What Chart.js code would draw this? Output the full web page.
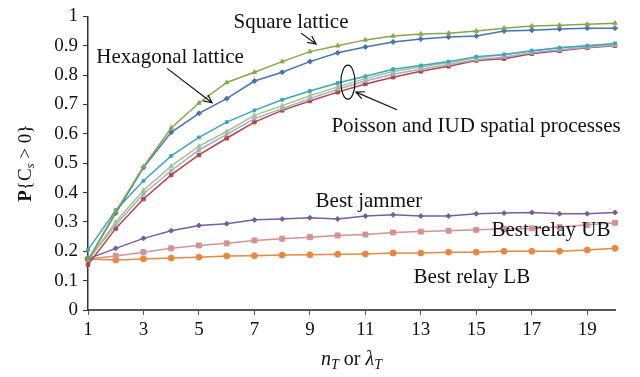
<!DOCTYPE html>
<html>
<head>
<meta charset="utf-8">
<script src="https://cdn.jsdelivr.net/npm/chart.js@4/dist/chart.umd.min.js"></script>
<style>
  html, body { margin: 0; padding: 0; background: #fff; }
  #wrap { width: 640px; height: 377px; }
</style>
</head>
<body>
<div id="wrap"><canvas id="c"></canvas></div>
<script>
var nT = ['1','2','3','4','5','6','7','8','9','10','11','12','13','14','15','16','17','18','19','20'];

var squareLattice = [0.17, 0.335, 0.488, 0.62, 0.705, 0.775, 0.81, 0.846, 0.88, 0.90, 0.92, 0.933, 0.94, 0.943, 0.95, 0.96, 0.967, 0.97, 0.973, 0.977];
var hexLattice    = [0.17, 0.33, 0.485, 0.605, 0.67, 0.72, 0.78, 0.81, 0.846, 0.876, 0.896, 0.913, 0.923, 0.93, 0.933, 0.95, 0.953, 0.957, 0.96, 0.96];
var poissonA      = [0.205, 0.34, 0.44, 0.525, 0.588, 0.64, 0.68, 0.716, 0.746, 0.773, 0.796, 0.82, 0.833, 0.846, 0.863, 0.87, 0.883, 0.893, 0.9, 0.908];
var poissonB      = [0.17, 0.30, 0.408, 0.49, 0.558, 0.608, 0.663, 0.696, 0.73, 0.76, 0.788, 0.812, 0.828, 0.843, 0.858, 0.87, 0.882, 0.893, 0.9, 0.905];
var iudA          = [0.17, 0.29, 0.395, 0.475, 0.545, 0.598, 0.652, 0.686, 0.72, 0.752, 0.78, 0.803, 0.82, 0.836, 0.852, 0.862, 0.876, 0.886, 0.895, 0.902];
var iudB          = [0.154, 0.278, 0.378, 0.46, 0.528, 0.585, 0.64, 0.68, 0.712, 0.742, 0.77, 0.793, 0.813, 0.83, 0.85, 0.856, 0.873, 0.883, 0.893, 0.9];
var bestJammer    = [0.174, 0.21, 0.244, 0.27, 0.288, 0.294, 0.307, 0.31, 0.314, 0.31, 0.32, 0.324, 0.32, 0.32, 0.328, 0.33, 0.332, 0.328, 0.328, 0.332];
var relayUB       = [0.174, 0.184, 0.197, 0.21, 0.22, 0.227, 0.237, 0.243, 0.248, 0.254, 0.257, 0.264, 0.267, 0.27, 0.273, 0.276, 0.278, 0.283, 0.29, 0.297];
var relayLB       = [0.174, 0.17, 0.174, 0.177, 0.18, 0.184, 0.185, 0.187, 0.188, 0.19, 0.191, 0.194, 0.194, 0.197, 0.197, 0.2, 0.2, 0.2, 0.204, 0.21];

var SERIF = '"Liberation Serif", "DejaVu Serif", serif';

function ds(data, color, style, r) {
  return {
    data: data,
    borderColor: color,
    backgroundColor: color,
    borderWidth: 1.5,
    pointStyle: style,
    pointRadius: r,
    pointBorderWidth: 1,
    tension: 0
  };
}

// text annotations (x as value on nT axis, y as probability)
var notes = [
  { text: 'Square lattice', x: 8.32, y: 0.98 },
  { text: 'Hexagonal lattice', x: 3.96, y: 0.86 },
  { text: 'Poisson and IUD spatial processes', x: 14.99, y: 0.625 },
  { text: 'Best jammer', x: 11.13, y: 0.368 },
  { text: 'Best relay UB', x: 17.69, y: 0.271 },
  { text: 'Best relay LB', x: 14.84, y: 0.11 }
];
var arrows = [
  { x0: 8.68, y0: 0.943, x1: 9.22, y1: 0.906 },
  { x0: 3.85, y0: 0.823, x1: 5.47, y1: 0.706 },
  { x0: 12.14, y0: 0.682, x1: 10.66, y1: 0.742 }
];
var ellipse = { x: 10.37, y: 0.776 };

var annotate = {
  id: 'annotate',
  afterDatasetsDraw: function(chart) {
    var c = chart.ctx, xs = chart.scales.x, ys = chart.scales.y;
    function px(v) { return xs.getPixelForValue(v - 1); }
    function py(v) { return ys.getPixelForValue(v); }
    c.save();
    c.fillStyle = '#111';
    c.font = '21px ' + SERIF;
    c.textAlign = 'center';
    c.textBaseline = 'middle';
    notes.forEach(function(n) { c.fillText(n.text, px(n.x), py(n.y)); });

    c.strokeStyle = '#111';
    c.lineWidth = 1.2;
    arrows.forEach(function(a) {
      var x0 = px(a.x0), y0 = py(a.y0), x1 = px(a.x1), y1 = py(a.y1);
      c.beginPath(); c.moveTo(x0, y0); c.lineTo(x1, y1); c.stroke();
      var ang = Math.atan2(y1 - y0, x1 - x0), h = 9, w = 0.45;
      c.beginPath();
      c.moveTo(x1 - h * Math.cos(ang - w), y1 - h * Math.sin(ang - w));
      c.lineTo(x1, y1);
      c.lineTo(x1 - h * Math.cos(ang + w), y1 - h * Math.sin(ang + w));
      c.stroke();
    });
    c.beginPath();
    c.ellipse(px(ellipse.x), py(ellipse.y), 7, 17, 0, 0, Math.PI * 2);
    c.stroke();

    // x title: n_T or λ_T
    var cx = (chart.chartArea.left + chart.chartArea.right) / 2, ty = 360;
    var parts = [
      { t: 'n', f: 'italic 20px ' + SERIF, dy: 0 },
      { t: 'T', f: 'italic 14px ' + SERIF, dy: 5 },
      { t: ' or ', f: '20px ' + SERIF, dy: 0 },
      { t: 'λ', f: 'italic 20px ' + SERIF, dy: 0 },
      { t: 'T', f: 'italic 14px ' + SERIF, dy: 5 }
    ];
    drawParts(c, parts, cx, ty);

    // y title: P{C_s > 0}
    c.translate(26, (chart.chartArea.top + chart.chartArea.bottom) / 2);
    c.rotate(-Math.PI / 2);
    var yparts = [
      { t: 'P', f: 'bold 19px ' + SERIF, dy: 0 },
      { t: '{C', f: '19px ' + SERIF, dy: 0 },
      { t: 's', f: 'italic 13px ' + SERIF, dy: 5 },
      { t: ' > 0}', f: '19px ' + SERIF, dy: 0 }
    ];
    drawParts(c, yparts, 0, 0);
    c.restore();
  }
};

function drawParts(c, parts, cx, cy) {
  var total = 0;
  parts.forEach(function(p) { c.font = p.f; p.w = c.measureText(p.t).width; total += p.w; });
  var x = cx - total / 2;
  c.textAlign = 'left';
  c.textBaseline = 'middle';
  c.fillStyle = '#111';
  parts.forEach(function(p) { c.font = p.f; c.fillText(p.t, x, cy + p.dy); x += p.w; });
}

new Chart(document.getElementById('c'), {
  type: 'line',
  data: {
    labels: nT,
    datasets: [
      ds(squareLattice, '#86A84A', 'triangle', 2.5),
      ds(hexLattice, '#4474B4', 'rectRot', 2.5),
      ds(poissonA, '#3FA4C0', 'rect', 2),
      ds(poissonB, '#A8C582', 'triangle', 2.5),
      ds(iudA, '#9DAED6', 'rect', 2),
      ds(iudB, '#B94340', 'rect', 2.5),
      ds(bestJammer, '#7B5C9E', 'rectRot', 2.5),
      ds(relayUB, '#D39391', 'rect', 3.5),
      ds(relayLB, '#E8883F', 'circle', 3)
    ]
  },
  options: {
    responsive: true,
    maintainAspectRatio: false,
    animation: false,
    layout: { padding: { top: 11, right: 25, left: 0, bottom: 0 } },
    plugins: { legend: { display: false }, tooltip: { enabled: false } },
    scales: {
      x: {
        type: 'category',
        offset: false,
        afterFit: function(s) { s.height = 67; },
        border: { display: true, color: '#555', width: 2 },
        grid: {
          drawOnChartArea: false, drawTicks: true, tickLength: 5, offset: false,
          color: function(ctx) { return ctx.index % 2 === 0 ? '#555' : 'rgba(0,0,0,0)'; }
        },
        ticks: {
          autoSkip: false, maxRotation: 0, padding: 4, color: '#111',
          font: { family: SERIF, size: 19 },
          callback: function(v, i) { return i % 2 === 0 ? nT[i] : ''; }
        }
      },
      y: {
        min: 0, max: 1,
        afterFit: function(s) { s.width = 88; },
        border: { display: true, color: '#333', width: 1.5 },
        grid: { drawOnChartArea: false, drawTicks: true, tickLength: 5, color: '#333' },
        ticks: {
          stepSize: 0.1, padding: 5, color: '#111',
          font: { family: SERIF, size: 19 },
          callback: function(v) { return String(Number(v.toFixed(1))); }
        }
      }
    }
  },
  plugins: [annotate]
});
</script>
</body>
</html>
